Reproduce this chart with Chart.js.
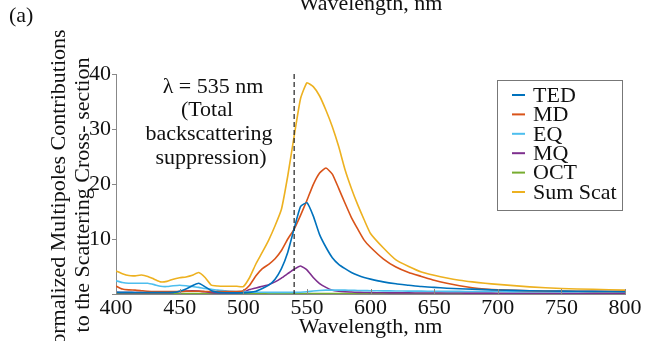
<!DOCTYPE html>
<html>
<head>
<meta charset="utf-8">
<script src="https://cdn.jsdelivr.net/npm/chart.js@4.4.0/dist/chart.umd.min.js"></script>
<style>
  html, body { margin: 0; padding: 0; background: #fff; }
</style>
</head>
<body>
<canvas id="graficoMultipolos" width="663" height="341"></canvas>
<script>
const comprimentos = [400, 405, 410, 415, 420, 425, 430, 435, 440, 445, 450, 455, 460, 465, 470, 475, 480, 485, 490, 495,
  500, 505, 510, 515, 520, 525, 530, 535, 540, 545, 550, 555, 560, 565, 570, 575, 580, 585, 590, 595,
  600, 610, 620, 630, 640, 650, 660, 670, 680, 690, 700, 725, 750, 775, 800];

const ted = [0.3, 0.3, 0.3, 0.28, 0.28, 0.27, 0.27, 0.27, 0.28, 0.3, 0.5, 0.9, 1.5, 1.95, 1.3, 0.6, 0.3, 0.22, 0.2, 0.2,
  0.2, 0.3, 0.5, 1.0, 1.6, 2.7, 4.6, 7.6, 11.9, 15.9, 16.6, 14.2, 10.8, 8.5, 6.6, 5.4, 4.6, 3.9, 3.4, 3.0,
  2.7, 2.2, 1.85, 1.6, 1.35, 1.2, 1.05, 0.95, 0.88, 0.8, 0.72, 0.6, 0.52, 0.47, 0.42];

const md = [1.45, 0.9, 0.75, 0.7, 0.6, 0.5, 0.45, 0.45, 0.45, 0.45, 0.45, 0.5, 0.5, 0.5, 0.45, 0.45, 0.45, 0.45, 0.45, 0.45,
  0.6, 1.6, 3.3, 4.6, 5.4, 6.4, 7.9, 10.0, 11.8, 14.3, 17.0, 19.9, 22.0, 22.9, 21.8, 19.2, 16.5, 13.9, 11.8, 9.8,
  8.5, 6.4, 4.9, 3.9, 3.2, 2.5, 1.95, 1.5, 1.15, 0.9, 0.75, 0.6, 0.52, 0.48, 0.45];

const eq = [2.4, 2.1, 1.95, 1.95, 1.95, 1.95, 1.7, 1.4, 1.35, 1.5, 1.6, 1.5, 1.35, 1.2, 1.0, 0.85, 0.7, 0.6, 0.5, 0.45,
  0.4, 0.35, 0.33, 0.32, 0.3, 0.3, 0.3, 0.3, 0.3, 0.32, 0.4, 0.55, 0.65, 0.7, 0.7, 0.7, 0.7, 0.68, 0.65, 0.62,
  0.6, 0.57, 0.55, 0.53, 0.52, 0.5, 0.48, 0.47, 0.46, 0.45, 0.45, 0.42, 0.4, 0.4, 0.4];

const mq = [0.3, 0.25, 0.25, 0.25, 0.25, 0.25, 0.25, 0.25, 0.25, 0.3, 0.45, 0.55, 0.6, 0.55, 0.4, 0.25, 0.2, 0.2, 0.2, 0.2,
  0.35, 0.8, 1.1, 1.4, 1.7, 2.2, 2.9, 3.7, 4.5, 5.1, 4.4, 3.0, 1.9, 1.2, 0.7, 0.5, 0.4, 0.35, 0.3, 0.28,
  0.25, 0.22, 0.2, 0.2, 0.18, 0.18, 0.17, 0.17, 0.16, 0.16, 0.15, 0.15, 0.15, 0.15, 0.15];

const oct = [0.08, 0.07, 0.07, 0.06, 0.06, 0.06, 0.05, 0.05, 0.05, 0.05, 0.05, 0.05, 0.05, 0.05, 0.05, 0.05, 0.05, 0.05, 0.05, 0.05,
  0.05, 0.05, 0.05, 0.05, 0.05, 0.05, 0.05, 0.05, 0.05, 0.05, 0.05, 0.05, 0.05, 0.05, 0.05, 0.05, 0.05, 0.05, 0.05, 0.05,
  0.05, 0.05, 0.05, 0.05, 0.05, 0.05, 0.05, 0.05, 0.05, 0.05, 0.05, 0.05, 0.05, 0.05, 0.05];

const somaScat = [4.2, 3.7, 3.35, 3.3, 3.45, 3.2, 2.7, 2.2, 2.3, 2.7, 2.95, 3.1, 3.4, 3.9, 3.0, 1.6, 1.45, 1.4, 1.4, 1.4,
  1.35, 3.0, 5.5, 7.6, 9.8, 12.4, 15.4, 21.5, 28.7, 35.5, 38.4, 37.7, 36.0, 33.4, 30.4, 26.8, 22.6, 19.2, 16.2, 13.5,
  11.0, 8.4, 6.2, 5.0, 4.0, 3.4, 2.9, 2.5, 2.2, 1.95, 1.75, 1.3, 1.0, 0.85, 0.7];

const rotulosSeries = ["TED", "MD", "EQ", "MQ", "OCT", "Sum Scat"];
const coresSeries = ["#0072BD", "#D95319", "#4DBEEE", "#7E2F8E", "#77AC30", "#EDB120"];
const ticksY = [10, 20, 30, 40];
const lambdaMarcada = 540; // posição da linha tracejada como aparece na figura
const textoAnotacao = ["\u03bb = 535 nm", "(Total", "backscattering", "suppression)"];

const fonteSerif = "'Liberation Serif', 'Times New Roman', serif";

function montarDatasets() {
  const series = [ted, md, eq, mq, oct, somaScat];
  return series.map((valores, i) => ({
    label: rotulosSeries[i],
    data: valores.map((v, j) => ({ x: comprimentos[j], y: v })),
    borderColor: coresSeries[i],
    backgroundColor: coresSeries[i],
    borderWidth: i === 4 ? 2.2 : 1.6,
    pointRadius: 0,
    tension: 0.15,
    fill: false
  }));
}

// textos soltos, linha tracejada, ticks internos e legenda
const pluginExtras = {
  id: "extras",
  afterDatasetsDraw(chart) {
    const ctx = chart.ctx;
    const area = chart.chartArea;
    const escalaX = chart.scales.x;

    // linha tracejada
    const xm = escalaX.getPixelForValue(lambdaMarcada);
    ctx.save();
    ctx.strokeStyle = "#222";
    ctx.lineWidth = 1.2;
    ctx.setLineDash([5, 3]);
    ctx.beginPath();
    ctx.moveTo(xm, area.top);
    ctx.lineTo(xm, area.bottom);
    ctx.stroke();
    ctx.restore();

    // ticks do eixo x para dentro
    ctx.save();
    ctx.strokeStyle = "#888";
    ctx.lineWidth = 1;
    escalaX.ticks.forEach(t => {
      const px = Math.round(escalaX.getPixelForValue(t.value)) + 0.5;
      ctx.beginPath();
      ctx.moveTo(px, area.bottom);
      ctx.lineTo(px, area.bottom - 5);
      ctx.stroke();
    });
    ctx.restore();

    // anotação
    ctx.save();
    ctx.fillStyle = "#111";
    ctx.font = "22px " + fonteSerif;
    ctx.textAlign = "center";
    ctx.textBaseline = "alphabetic";
    const baseAnot = [93, 116, 140, 164];
    const centroAnot = [213, 207, 209, 211];
    textoAnotacao.forEach((linha, i) => ctx.fillText(linha, centroAnot[i], baseAnot[i]));
    ctx.restore();

    // legenda
    const caixa = { x: 497, y: 80, w: 125, h: 130 };
    ctx.save();
    ctx.fillStyle = "#fff";
    ctx.fillRect(caixa.x, caixa.y, caixa.w, caixa.h);
    ctx.strokeStyle = "#777";
    ctx.lineWidth = 1;
    ctx.strokeRect(caixa.x + 0.5, caixa.y + 0.5, caixa.w, caixa.h);
    ctx.font = "22px " + fonteSerif;
    ctx.textAlign = "left";
    ctx.textBaseline = "middle";
    chart.data.datasets.forEach((ds, i) => {
      const yl = caixa.y + 15 + i * 19.4;
      ctx.strokeStyle = ds.borderColor;
      ctx.lineWidth = 2;
      ctx.beginPath();
      ctx.moveTo(caixa.x + 15, yl);
      ctx.lineTo(caixa.x + 28, yl);
      ctx.stroke();
      ctx.fillStyle = "#111";
      ctx.fillText(ds.label, caixa.x + 36, yl + 1);
    });
    ctx.restore();
  },
  afterDraw(chart) {
    const ctx = chart.ctx;
    ctx.save();
    ctx.fillStyle = "#111";
    ctx.font = "22px " + fonteSerif;
    ctx.textBaseline = "alphabetic";
    ctx.textAlign = "left";
    ctx.fillText("(a)", 9, 22);
    ctx.textAlign = "center";
    ctx.fillText("Wavelength, nm", (chart.chartArea.left + chart.chartArea.right) / 2, 10);

    // título do eixo y em duas linhas
    ctx.translate(0, 195);
    ctx.rotate(-Math.PI / 2);
    ctx.fillText("Normalized Multipoles Contributions", 0, 65);
    ctx.fillText("to the Scattering Cross- section", 0, 89);
    ctx.restore();
  }
};

new Chart(document.getElementById("graficoMultipolos").getContext("2d"), {
  type: "line",
  data: { datasets: montarDatasets() },
  options: {
    responsive: false,
    animation: false,
    devicePixelRatio: 1,
    layout: { padding: { top: 74, right: 38, left: 0, bottom: 0 } },
    plugins: {
      legend: { display: false },
      tooltip: { enabled: false }
    },
    scales: {
      x: {
        type: "linear",
        min: 400,
        max: 800,
        afterFit: escala => { escala.height = 47; },
        ticks: {
          stepSize: 50,
          padding: 1,
          color: "#111",
          font: { family: fonteSerif, size: 22 }
        },
        grid: { display: true, drawOnChartArea: false, drawTicks: false },
        border: { display: true, color: "#888", width: 1 },
        title: {
          display: true,
          text: "Wavelength, nm",
          color: "#111",
          font: { family: fonteSerif, size: 22 },
          padding: { top: 0, bottom: 1 }
        }
      },
      y: {
        min: 0,
        max: 40,
        afterFit: escala => { escala.width = 116; },
        afterBuildTicks: escala => { escala.ticks = [0].concat(ticksY).map(v => ({ value: v })); },
        ticks: {
          padding: 1,
          color: "#111",
          font: { family: fonteSerif, size: 22 },
          callback: v => (v === 0 ? "" : v)
        },
        grid: { drawOnChartArea: false, drawTicks: true, tickLength: 4, color: "#888" },
        border: { display: true, color: "#888", width: 1 }
      }
    }
  },
  plugins: [pluginExtras]
});
</script>
</body>
</html>
